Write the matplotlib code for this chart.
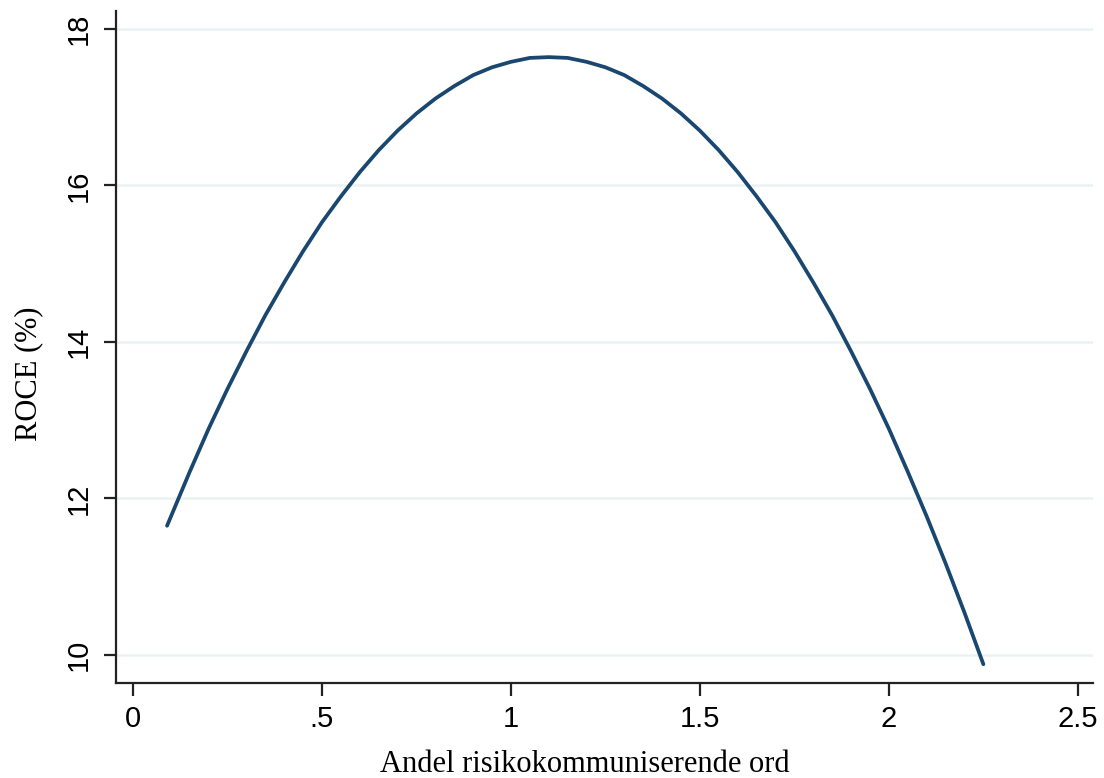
import numpy as np
import matplotlib
matplotlib.use('Agg')
import matplotlib.pyplot as plt

# fitted ROCE curve
andel = [0.09, 0.15, 0.2, 0.25, 0.3, 0.35, 0.4, 0.45, 0.5, 0.55, 0.6, 0.65,
         0.7, 0.75, 0.8, 0.85, 0.9, 0.95, 1.0, 1.05, 1.1, 1.15, 1.2, 1.25,
         1.3, 1.35, 1.4, 1.45, 1.5, 1.55, 1.6, 1.65, 1.7, 1.75, 1.8, 1.85,
         1.9, 1.95, 2.0, 2.05, 2.1, 2.15, 2.2, 2.25]
roce = [11.65, 12.34, 12.89, 13.40, 13.88, 14.34, 14.76, 15.16, 15.53, 15.86, 16.17, 16.45,
        16.70, 16.92, 17.11, 17.27, 17.41, 17.51, 17.58, 17.63, 17.64, 17.63, 17.58, 17.51,
        17.41, 17.27, 17.11, 16.92, 16.70, 16.45, 16.17, 15.86, 15.53, 15.16, 14.76, 14.34,
        13.88, 13.40, 12.89, 12.34, 11.77, 11.17, 10.54, 9.88]

x_ticks = [0, 0.5, 1, 1.5, 2, 2.5]
x_ticklabels = ['0', '.5', '1', '1.5', '2', '2.5']
y_ticks = [10, 12, 14, 16, 18]
y_ticklabels = ['10', '12', '14', '16', '18']

line_color = '#1a476f'
grid_color = '#eaf2f3'
sans = ['Liberation Sans', 'DejaVu Sans']
serif = ['Liberation Serif', 'DejaVu Serif']

fig = plt.figure(figsize=(11.04, 7.78), dpi=100)
ax = fig.add_axes([0.1051, 0.1221, 0.8849, 0.8638])

ax.plot(andel, roce, color=line_color, linewidth=2.7,
        solid_capstyle='round', solid_joinstyle='round')

ax.set_xlim(-0.045, 2.54)
ax.set_ylim(9.64, 18.23)

ax.set_xticks(x_ticks)
ax.set_xticklabels(x_ticklabels, family=sans, fontsize=21)
ax.set_yticks(y_ticks)
ax.set_yticklabels(y_ticklabels, family=sans, fontsize=21, rotation=90, va='center')

ax.yaxis.grid(True, color=grid_color, linewidth=1.8)
ax.set_axisbelow(True)

for side in ['top', 'right']:
    ax.spines[side].set_visible(False)
for side in ['left', 'bottom']:
    ax.spines[side].set_linewidth(1.6)
    ax.spines[side].set_color('#222222')

ax.tick_params(axis='x', length=9, width=1.6, pad=7, color='#222222')
ax.tick_params(axis='y', length=9, width=1.6, pad=8, color='#222222')

ax.set_xlabel('Andel risikokommuniserende ord', family=serif, fontsize=22, labelpad=12)
ax.set_ylabel('ROCE (%)', family=serif, fontsize=22, labelpad=15)
# labels sit a bit off-centre in the original
ax.xaxis.label.set_x(0.48)
ax.yaxis.label.set_y(0.46)

fig.savefig('out.png', dpi=100)
